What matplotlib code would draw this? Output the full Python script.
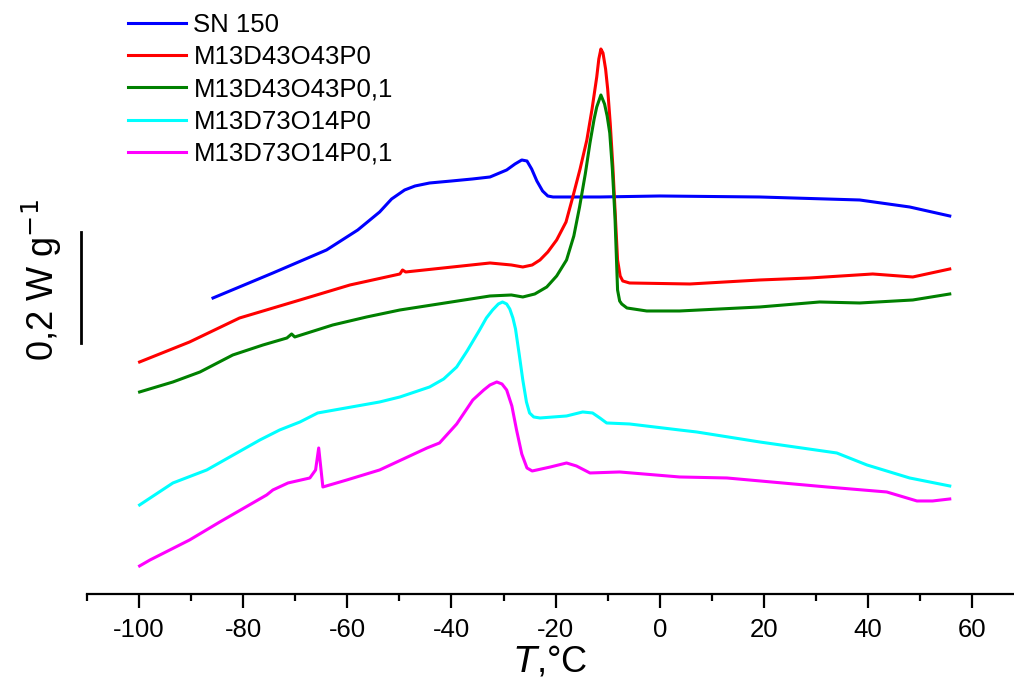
import matplotlib
matplotlib.use('Agg')
import matplotlib.pyplot as plt

plt.rcParams['font.family'] = ['Liberation Sans', 'DejaVu Sans']
plt.rcParams['axes.unicode_minus'] = False

# Temperatures (°C) and heat flow (offset, arbitrary vertical units; 111 units = 0.2 W/g)
t_sn150 = [-85.8, -74.3, -64.0, -58.0, -53.8, -51.5, -49.0, -47.0, -44.2, -40.0, -36.0,
           -32.6, -29.4, -27.8, -26.5, -25.5, -24.6, -23.6, -22.5, -21.5, -20.5, -11.5,
           0.0, 19.2, 38.4, 48.0, 55.7]
q_sn150 = [296, 321, 344, 364, 382, 395, 404, 408, 411, 413, 415,
           417, 424, 430, 434, 433, 425, 413, 403, 398, 397, 397,
           398, 397, 394, 387, 378]

t_p0 = [-99.9, -90.3, -80.7, -69.1, -59.5, -49.9, -49.4, -48.8, -32.6, -28.5, -26.3,
        -24.5, -23.0, -21.5, -19.8, -18.0, -16.7, -15.3, -14.0, -13.0, -12.1, -11.7,
        -11.3, -10.9, -10.4, -10.0, -9.5, -9.0, -8.5, -8.1, -7.6, -7.1, -5.8, 5.8,
        19.2, 28.8, 40.9, 48.6, 55.7]
q_p0 = [232, 252, 276, 294, 309, 320, 324, 322, 331, 329, 327,
        329, 334, 342, 354, 372, 397, 425, 454, 485, 517, 535,
        545, 541, 525, 505, 470, 427, 375, 334, 318, 313, 311, 310,
        314, 316, 320, 317, 325]

t_p01 = [-99.9, -93.5, -88.3, -82.0, -76.2, -71.6, -70.7, -70.1, -62.8, -56.3, -49.9,
         -32.6, -28.5, -26.3, -24.0, -21.7, -19.8, -17.9, -16.5, -15.4, -14.3, -13.4,
         -12.6, -12.1, -11.3, -10.6, -10.1, -9.6, -9.1, -8.6, -8.1, -7.7, -7.3, -6.3,
         -2.5, 3.8, 19.2, 30.7, 38.4, 48.6, 55.7]
q_p01 = [202, 212, 222, 239, 249, 256, 260, 257, 269, 277, 284,
         298, 299, 297, 300, 307, 318, 334, 358, 387, 420, 451,
         475, 487, 499, 490, 478, 461, 425, 377, 304, 293, 290, 286,
         283, 283, 287, 292, 291, 294, 300]

t_d73_p0 = [-99.9, -93.5, -87.0, -76.8, -73.0, -69.1, -65.7, -53.8, -49.9, -44.2, -41.5,
            -39.0, -37.0, -34.6, -33.3, -32.1, -31.0, -30.2, -29.4, -28.8, -28.2, -27.7,
            -27.0, -26.3, -25.6, -25.0, -24.2, -23.0, -17.9, -14.8, -12.9, -11.5, -10.2,
            -5.8, 3.8, 7.1, 19.2, 34.0, 39.8, 48.0, 55.7]
q_d73_p0 = [89, 111, 124, 154, 164, 172, 181, 192, 197, 207, 215,
            227, 243, 264, 276, 284, 290, 292, 290, 285, 276, 265,
            240, 214, 192, 181, 177, 176, 178, 182, 181, 176, 171,
            170, 164, 162, 152, 141, 129, 116, 108]

t_d73_p01 = [-99.9, -97.9, -90.3, -84.5, -75.5, -74.3, -71.4, -67.2, -66.1, -65.5, -64.7,
             -60.1, -53.8, -44.7, -42.3, -39.0, -35.9, -33.8, -32.6, -31.3, -30.3, -29.4,
             -28.4, -27.5, -26.5, -25.5, -24.5, -23.6, -21.0, -17.9, -16.0, -13.4, -7.7,
             3.8, 12.9, 32.1, 43.6, 49.4, 52.4, 55.7]
q_d73_p01 = [28, 34, 54, 72, 99, 104, 111, 116, 124, 146, 107,
             114, 124, 146, 151, 170, 194, 204, 209, 212, 210, 204,
             188, 164, 140, 126, 123, 124, 127, 131, 128, 121, 122,
             117, 116, 107, 102, 93, 93, 95]

series = [
    ('SN 150', t_sn150, q_sn150, '#0000ff'),
    ('M13D43O43P0', t_p0, q_p0, '#ff0000'),
    ('M13D43O43P0,1', t_p01, q_p01, '#008000'),
    ('M13D73O14P0', t_d73_p0, q_d73_p0, '#00ffff'),
    ('M13D73O14P0,1', t_d73_p01, q_d73_p01, '#ff00ff'),
]
scale_bar = 111  # 0,2 W/g in plot units

fig = plt.figure(figsize=(10.14, 6.81), dpi=100)
ax = fig.add_axes([0.0858, 0.1278, 0.914, 0.8722])

for label, t, q, c in series:
    ax.plot(t, q, color=c, lw=2.2, label=label)

ax.set_xlim(-110, 68)
ax.set_ylim(0, 594)
for s in ['left', 'right', 'top']:
    ax.spines[s].set_visible(False)
ax.spines['bottom'].set_linewidth(1.6)
ax.set_yticks([])
ax.set_xticks(range(-100, 61, 20))
ax.set_xticks(range(-110, 70, 20), minor=True)
ax.tick_params(axis='x', which='major', length=10, width=1.6, labelsize=18.5, pad=7)
ax.tick_params(axis='x', which='minor', length=5, width=1.6)
ax.set_xlabel('$\\mathit{T}$,°C', fontsize=26, labelpad=2)

# scale bar
ax.plot([-111.2, -111.2], [594 - 343, 594 - 343 + scale_bar], color='black', lw=2, clip_on=False)
fig.text(0.041, 0.588, '0,2 W g$^{-1}$', rotation=90, fontsize=26, ha='center', va='center')

ax.legend(loc='upper left', bbox_to_anchor=(0.116, 0.996), bbox_transform=fig.transFigure,
          frameon=False, fontsize=18.5, handlelength=2.25, handletextpad=0.3,
          labelspacing=0.32, borderaxespad=0)

fig.savefig('out.png', dpi=100)
plt.close()
